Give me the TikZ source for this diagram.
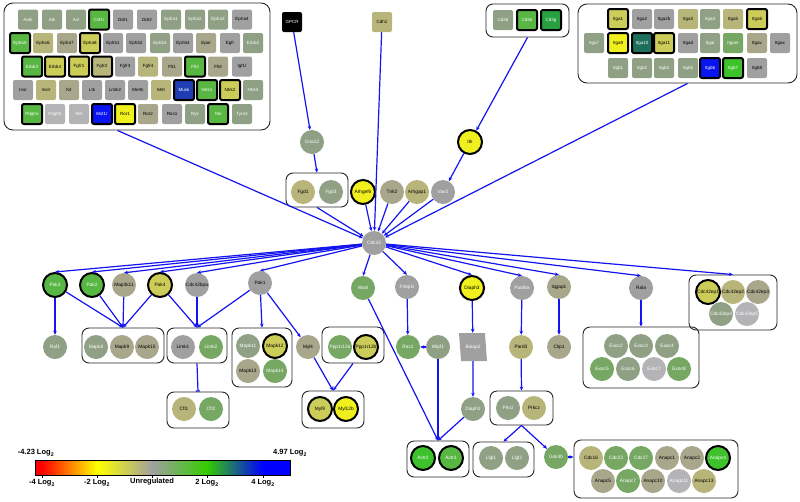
\documentclass[tikz,border=0pt]{standalone}
\usepackage{fontspec}
\setmainfont{Liberation Sans}
\usetikzlibrary{arrows.meta,shapes.geometric}

\definecolor{edgeblue}{RGB}{20,20,240}
\definecolor{cgray}{RGB}{160,160,160}
\definecolor{cltgray}{RGB}{180,180,182}
\definecolor{cgg}{RGB}{143,160,133}
\definecolor{cmg}{RGB}{118,168,100}
\definecolor{cgreen}{RGB}{88,182,66}
\definecolor{cbright}{RGB}{62,194,44}
\definecolor{cdgreen}{RGB}{40,160,64}
\definecolor{ckg}{RGB}{168,167,140}
\definecolor{ckhaki}{RGB}{184,181,122}
\definecolor{cyk}{RGB}{204,204,88}
\definecolor{cyellow}{RGB}{240,240,30}
\definecolor{cblue}{RGB}{10,20,240}
\definecolor{cdblue}{RGB}{32,62,180}
\definecolor{cteal}{RGB}{30,110,92}
\definecolor{legyellow}{RGB}{255,255,0}
\definecolor{leggreen}{RGB}{51,204,0}

\newcommand\genefont{\fontsize{4.8}{5}\selectfont}
\newcommand\rtkfont{\fontsize{4.5}{5}\selectfont}
\newcommand\legfont{\fontsize{7.5}{9}\selectfont\bfseries}

\tikzset{
  gene/.style={circle,minimum size=24pt,inner sep=0pt,font=\genefont},
  rtk/.style={rectangle,rounded corners=2pt,minimum size=20pt,inner sep=0pt,font=\rtkfont},
  hit/.style={draw=black,line width=2pt},
  grp/.style={draw=black!85,line width=0.9pt,rounded corners=7pt,inner sep=0pt},
  link/.style={draw=edgeblue,line width=1.2pt,-{Stealth[length=4pt,width=3.5pt]}},
  stop/.style={draw=edgeblue,line width=1.2pt,-{Bar[width=4pt]}},
  legtext/.style={font=\legfont,inner sep=0pt},
  fgray/.style={fill=cgray,text=black},
  fgrayw/.style={fill=cgray,text=white},
  flt/.style={fill=cltgray,text=white},
  fgg/.style={fill=cgg,text=white},
  fmg/.style={fill=cmg,text=white},
  fgreen/.style={fill=cgreen,text=white},
  fbright/.style={fill=cbright,text=white},
  fdgreen/.style={fill=cdgreen,text=white},
  fkg/.style={fill=ckg,text=black},
  fkhaki/.style={fill=ckhaki,text=black},
  fyk/.style={fill=cyk,text=black},
  fyellow/.style={fill=cyellow,text=black},
  fblue/.style={fill=cblue,text=white},
  fdblue/.style={fill=cdblue,text=white},
  fteal/.style={fill=cteal,text=white},
}

\begin{document}
\begin{tikzpicture}[x=1pt,y=-1pt]
\useasboundingbox[fill=white] (0,0) rectangle (800,501);

% group boxes
\node[grp,rounded corners=9pt,minimum width=266pt,minimum height=127pt] (rtkbox) at (137,66.5) {};
\node[grp,rounded corners=9pt,minimum width=219pt,minimum height=79pt] (itgbox) at (687.5,43.5) {};
\node[grp,minimum width=83pt,minimum height=33pt] (cd3box) at (527.5,20.5) {};
\node[grp,minimum width=62pt,minimum height=34pt] (fgdbox) at (317,190) {};
\node[grp,minimum width=82pt,minimum height=35pt] (mapkbox) at (123,345.5) {};
\node[grp,minimum width=60pt,minimum height=35pt] (limkbox) at (197,345.5) {};
\node[grp,minimum width=60pt,minimum height=59pt] (mapk11box) at (262,357.5) {};
\node[grp,minimum width=62pt,minimum height=36pt] (ppp1rbox) at (353,345) {};
\node[grp,minimum width=62pt,minimum height=37pt] (mylbox) at (333,409.5) {};
\node[grp,minimum width=88pt,minimum height=55pt] (epbox) at (733,302.5) {};
\node[grp,minimum width=116pt,minimum height=61pt] (exocbox) at (641,357.5) {};
\node[grp,minimum width=62pt,minimum height=36pt] (cflbox) at (198,410) {};
\node[grp,minimum width=63pt,minimum height=34pt] (prkcbox) at (521.5,408) {};
\node[grp,minimum width=62pt,minimum height=36pt] (actinbox) at (438,459) {};
\node[grp,minimum width=61pt,minimum height=35pt] (llglbox) at (503.5,459.5) {};
\node[grp,minimum width=164pt,minimum height=58pt] (anapcbox) at (656,469) {};

% receptor tyrosine kinases
\node[rtk,fgg] (aatk) at (28,19.5) {Aatk};
\node[rtk,fgg] (alk) at (52,19.5) {Alk};
\node[rtk,fgg] (axl) at (76,19.5) {Axl};
\node[rtk,fgreen,hit] (csf1r) at (99,19.5) {Csf1r};
\node[rtk,fgray] (ddr1) at (123,19.5) {Ddr1};
\node[rtk,fgray] (ddr2) at (147,19.5) {Ddr2};
\node[rtk,fgg] (epha1) at (171,19.5) {Epha1};
\node[rtk,fgg] (epha2) at (195,19.5) {Epha2};
\node[rtk,fgg] (epha3) at (218,19.5) {Epha3};
\node[rtk,fgray] (epha4) at (242,19.5) {Epha4};

\node[rtk,fgreen,hit] (epha5) at (20,43) {Epha5};
\node[rtk,fkhaki] (epha6) at (43,43) {Epha6};
\node[rtk,fkg] (epha7) at (67,43) {Epha7};
\node[rtk,fyk,hit] (epha8) at (90,43) {Epha8};
\node[rtk,fgray] (ephb1) at (113,43) {Ephb1};
\node[rtk,fgray] (ephb2) at (136,43) {Ephb2};
\node[rtk,fgg] (ephb3) at (160,43) {Ephb3};
\node[rtk,fgray] (ephb4) at (183,43) {Ephb4};
\node[rtk,fkg] (epor) at (206,43) {Epor};
\node[rtk,fgray] (egfr) at (230,43) {Egfr};
\node[rtk,fgg] (erbb2) at (253,43) {Erbb2};

\node[rtk,fgreen,hit] (erbb3) at (32,66.5) {Erbb3};
\node[rtk,fyk,hit] (erbb4) at (55,66.5) {Erbb4};
\node[rtk,fyk,hit] (fgfr1) at (79,66.5) {Fgfr1};
\node[rtk,fkhaki,hit] (fgfr2) at (102,66.5) {Fgfr2};
\node[rtk,fgray] (fgfr3) at (125,66.5) {Fgfr3};
\node[rtk,fkhaki] (fgfr4) at (148,66.5) {Fgfr4};
\node[rtk,fkg] (flt1) at (172,66.5) {Flt1};
\node[rtk,fgreen,hit] (flt3) at (195,66.5) {Flt3};
\node[rtk,fkg] (flt4) at (218,66.5) {Flt4};
\node[rtk,fgray] (igf1r) at (242,66.5) {Igf1r};

\node[rtk,fgray] (insr) at (23,90) {Insr};
\node[rtk,fkhaki] (insrr) at (46,90) {Insrr};
\node[rtk,fkg] (kit) at (69,90) {Kit};
\node[rtk,fgray] (ltk) at (92,90) {Ltk};
\node[rtk,fgray] (lmtk2) at (115,90) {Lmtk2};
\node[rtk,fgray] (mertk) at (138,90) {Mertk};
\node[rtk,fkhaki] (met) at (161,90) {Met};
\node[rtk,fdblue,hit] (musk) at (184,90) {Musk};
\node[rtk,fgreen,hit] (ntrk1) at (207,90) {Ntrk1};
\node[rtk,fyk,hit] (ntrk2) at (230,90) {Ntrk2};
\node[rtk,fgg] (ntrk3) at (253,90) {Ntrk3};

\node[rtk,fgreen,hit] (pdgfra) at (32,114) {Pdgfra};
\node[rtk,flt] (pdgfrb) at (55,114) {Pdgfrb};
\node[rtk,flt] (ret) at (79,114) {Ret};
\node[rtk,fblue,hit] (mst1r) at (102,114) {Mst1r};
\node[rtk,fyellow,hit] (ror1) at (125,114) {Ror1};
\node[rtk,fkg] (ror2) at (148,114) {Ror2};
\node[rtk,fgray] (ros1) at (172,114) {Ros1};
\node[rtk,fgg] (ryk) at (195,114) {Ryk};
\node[rtk,fgreen,hit] (tek) at (218,114) {Tek};
\node[rtk,fgg] (tyro3) at (242,114) {Tyro3};

% integrins
\node[rtk,fyk,hit] (itga1) at (618,19) {Itga1};
\node[rtk,fgray] (itga2) at (642,19) {Itga2};
\node[rtk,fgray] (itga2b) at (664,19) {Itga2b};
\node[rtk,fkhaki] (itga3) at (688,19) {Itga3};
\node[rtk,fgg] (itga4) at (710,19) {Itga4};
\node[rtk,fkhaki] (itga5) at (733,19) {Itga5};
\node[rtk,fyk,hit] (itga6) at (757,19) {Itga6};

\node[rtk,fgg] (itga7) at (594,43) {Itga7};
\node[rtk,fyellow,hit] (itga9) at (618,43) {Itga9};
\node[rtk,fteal,hit] (itga10) at (642,43) {Itga10};
\node[rtk,fyk,hit] (itga11) at (664,43) {Itga11};
\node[rtk,fgray] (itgad) at (688,43) {Itgad};
\node[rtk,fgg] (itgal) at (710,43) {Itgal};
\node[rtk,fmg] (itgam) at (733,43) {Itgam};
\node[rtk,fkg] (itgav) at (757,43) {Itgav};
\node[rtk,fgray] (itgax) at (780,43) {Itgax};

\node[rtk,fgg] (itgb1) at (618,68) {Itgb1};
\node[rtk,fgg] (itgb2) at (642,68) {Itgb2};
\node[rtk,fgg] (itgb4) at (664,68) {Itgb4};
\node[rtk,fgg] (itgb5) at (688,68) {Itgb5};
\node[rtk,fblue,hit] (itgb6) at (710,68) {Itgb6};
\node[rtk,fbright,hit] (itgb7) at (733,68) {Itgb7};
\node[rtk,fgray] (itgb8) at (757,68) {Itgb8};

% cd3 complex and other inputs
\node[rtk,fgg] (cd3d) at (503,20) {Cd3d};
\node[rtk,fgreen,hit] (cd3e) at (527,20) {Cd3e};
\node[rtk,fdgreen,hit] (cd3g) at (551,20) {Cd3g};
\node[rtk,fill=black,text=white] (gpcr) at (292,22) {GPCR};
\node[rtk,fkhaki] (cdh1) at (382,22) {Cdh1};

\node[gene,fgg] (gna12) at (312,142) {Gna12};
\node[gene,fyellow,hit] (itk) at (470,142) {Itk};
\node[gene,fkhaki] (fgd1) at (303,192) {Fgd1};
\node[gene,fgg] (fgd3) at (331,192) {Fgd3};
\node[gene,fyellow,hit] (arhgef6) at (363,192) {Arhgef6};
\node[gene,fkg] (tnk2) at (392,192) {Tnk2};
\node[gene,fkhaki] (arhgap1) at (417,192) {Arhgap1};
\node[gene,fgrayw] (vav2) at (443,192) {Vav2};

\node[gene,fgrayw] (cdc42) at (374,243) {Cdc42};

% effectors
\node[gene,fgreen,hit] (pak3) at (55,285) {Pak3};
\node[gene,fgreen,hit] (pak2) at (92,285) {Pak2};
\node[gene,fkg] (map3k11) at (124,285) {Map3k11};
\node[gene,fyk,hit] (pak4) at (160,285) {Pak4};
\node[gene,fgray] (cdc42bpa) at (197,285) {Cdc42bpa};
\node[gene,fgray] (pak1) at (260,283) {Pak1};
\node[gene,fmg] (wasl) at (363,288) {Wasl};
\node[gene,fgrayw] (fnbp1l) at (407,287) {Fnbp1l};
\node[gene,fyellow,hit] (diaph3) at (472,288) {Diaph3};
\node[gene,fgrayw] (pard6a) at (522,288) {Pard6a};
\node[gene,fkg] (iqgap1) at (559,287) {Iqgap1};
\node[gene,fgray] (rala) at (641,288) {Rala};

\node[gene,fyk,hit] (cdc42ep1) at (708,292) {Cdc42ep1};
\node[gene,fkhaki] (cdc42ep2) at (733,292) {Cdc42ep2};
\node[gene,fkg] (cdc42ep3) at (758,292) {Cdc42ep3};
\node[gene,fgg] (cdc42ep4) at (721,314) {Cdc42ep4};
\node[gene,flt] (cdc42ep5) at (747,314) {Cdc42ep5};

% downstream
\node[gene,fgg] (raf1) at (55,347) {Raf1};
\node[gene,fgg] (mapk8) at (96,347) {Mapk8};
\node[gene,fkg] (mapk9) at (122,347) {Mapk9};
\node[gene,fkg] (mapk10) at (147,347) {Mapk10};
\node[gene,fgray] (limk1) at (183,347) {Limk1};
\node[gene,fmg] (limk2) at (211,347) {Limk2};
\node[gene,fgg] (mapk11) at (248,346) {Mapk11};
\node[gene,fyk,hit] (mapk12) at (275,346) {Mapk12};
\node[gene,fkg] (mapk13) at (248,371) {Mapk13};
\node[gene,fmg] (mapk14) at (275,371) {Mapk14};
\node[gene,fkg] (mylk) at (308,347) {Mylk};
\node[gene,fmg] (ppp1r12a) at (340,347) {Ppp1r12a};
\node[gene,fyk,hit] (ppp1r12b) at (366,347) {Ppp1r12b};
\node[gene,fyk,hit] (myl9) at (320,409) {Myl9};
\node[gene,fyellow,hit] (myl12b) at (346,409) {Myl12b};

\node[gene,fmg] (rac1) at (408,347) {Rac1};
\node[gene,fgg] (wipf1) at (438,347) {Wipf1};
\node[trapezium,trapezium left angle=106,trapezium right angle=74,trapezium stretches=true,
  minimum width=28pt,minimum height=28pt,inner sep=0pt,font=\genefont,fgrayw] (baiap2) at (473,347) {Baiap2};
\node[gene,fkhaki] (pard3) at (521,347) {Pard3};
\node[gene,fkg] (clip1) at (559,347) {Clip1};

\node[gene,fgg] (exoc2) at (616,346) {Exoc2};
\node[gene,fgg] (exoc3) at (641,346) {Exoc3};
\node[gene,fgg] (exoc4) at (667,346) {Exoc4};
\node[gene,fmg] (exoc5) at (602,369) {Exoc5};
\node[gene,fgg] (exoc6) at (628,369) {Exoc6};
\node[gene,flt] (exoc7) at (654,369) {Exoc7};
\node[gene,fmg] (exoc8) at (679,369) {Exoc8};

\node[gene,fkhaki] (cfl1) at (184,409) {Cfl1};
\node[gene,fmg] (cfl2) at (211,409) {Cfl2};
\node[gene,fgg] (diaph1) at (473,409) {Diaph1};
\node[gene,fgg] (prkci) at (508,408) {Prkci};
\node[gene,fkhaki] (prkcz) at (534,408) {Prkcz};
\node[gene,fbright,hit] (actr2) at (423,458) {Actr2};
\node[gene,fgreen,hit] (actr3) at (451,458) {Actr3};
\node[gene,fgg] (llgl1) at (491,458) {Llgl1};
\node[gene,fgg] (llgl2) at (517,458) {Llgl2};
\node[gene,fmg] (gsk3b) at (556,457) {Gsk3b};

\node[gene,fkhaki] (cdc16) at (591,458) {Cdc16};
\node[gene,fmg] (cdc23) at (616,458) {Cdc23};
\node[gene,fmg] (cdc27) at (641,458) {Cdc27};
\node[gene,fkg] (anapc1) at (667,458) {Anapc1};
\node[gene,fkg] (anapc2) at (692,458) {Anapc2};
\node[gene,fbright,hit] (anapc4) at (718,458) {Anapc4};
\node[gene,fkg] (anapc5) at (603,481) {Anapc5};
\node[gene,fmg] (anapc7) at (628,481) {Anapc7};
\node[gene,fkg] (anapc10) at (653,481) {Anapc10};
\node[gene,flt] (anapc11) at (679,481) {Anapc11};
\node[gene,fkhaki] (anapc13) at (704,481) {Anapc13};

% upstream links
\draw[link] (gpcr) -- (gna12);
\draw[link] (gna12) -- (fgdbox.north);
\draw[link] (cdh1) -- (cdc42);
\draw[link] (cd3box.south) -- (itk);
\draw[link] (itk) -- (vav2);
\draw[link] (rtkbox.-107) -- (cdc42);
\draw[link] (itgbox.south) -- (cdc42);
\draw[link] (fgdbox.south) -- (cdc42);
\draw[link] (arhgef6) -- (cdc42);
\draw[link] (tnk2) -- (cdc42);
\draw[link] (arhgap1) -- (cdc42);
\draw[link] (vav2) -- (cdc42);

% cdc42 to effectors
\draw[link] (cdc42) -- (pak3.north);
\draw[link] (cdc42) -- (pak2.north);
\draw[link] (cdc42) -- (map3k11.north);
\draw[link] (cdc42) -- (pak4.north);
\draw[link] (cdc42) -- (cdc42bpa.north);
\draw[link] (cdc42) -- (pak1.north);
\draw[link] (cdc42) -- (wasl.north);
\draw[link] (cdc42) -- (fnbp1l.north);
\draw[link] (cdc42) -- (diaph3.north);
\draw[link] (cdc42) -- (pard6a.north);
\draw[link] (cdc42) -- (iqgap1.north);
\draw[link] (cdc42) -- (rala.north);
\draw[link] (cdc42) -- (epbox.north);

% effectors downstream
\draw[link] (pak3) -- (raf1);
\draw[link] (pak3) -- (mapkbox.north);
\draw[link] (pak2) -- (mapkbox.north);
\draw[link] (map3k11) -- (mapkbox.north);
\draw[link] (pak4) -- (mapkbox.north);
\draw[link] (pak4) -- (limkbox.north);
\draw[link] (cdc42bpa) -- (limkbox.north);
\draw[link] (pak1) -- (limkbox.north);
\draw[link] (pak1) -- (mapk11box.north);
\draw[link] (pak1) -- (mylk);
\draw[link] (mylk) -- (mylbox.north);
\draw[link] (ppp1rbox.south) -- (mylbox.north);
\draw[stop] (limkbox.south) -- (cflbox.north);
\draw[link] (wasl) -- (actinbox.north);
\draw[link] (fnbp1l) -- (rac1);
\draw[link] (wipf1) -- (rac1);
\draw[link] (wipf1) -- (actinbox.north);
\draw[link] (diaph3) -- (baiap2);
\draw[link] (baiap2) -- (diaph1);
\draw[link] (diaph1) -- (actinbox.north);
\draw[link] (pard6a) -- (pard3);
\draw[link] (pard3) -- (prkcbox.north);
\draw[link] (iqgap1) -- (clip1);
\draw[link] (rala) -- (exocbox.north);
\draw[link] (prkcbox.south) -- (llglbox.north);
\draw[link] (prkcbox.south) -- (gsk3b);
\draw[link] (gsk3b) -- (gsk3b -| anapcbox.west);

% legend
\fill[red] (35,460) rectangle (42,475);
\shade[left color=red,right color=legyellow] (42,460) rectangle (97,475);
\shade[left color=legyellow,right color=cgray] (97,460) rectangle (152,475);
\shade[left color=cgray,right color=leggreen] (152,460) rectangle (207,475);
\shade[left color=leggreen,right color=blue] (207,460) rectangle (263,475);
\fill[blue] (263,460) rectangle (290,475);
\draw[line width=0.6pt] (35,460) rectangle (290,475);
\draw[line width=0.6pt] (42,475) -- (42,478) (97,475) -- (97,478) (152,475) -- (152,478)
  (207,475) -- (207,478) (263,475) -- (263,478);
\node[legtext] (legmin) at (36,453) {-4.23 Log\textsubscript{2}};
\node[legtext] (legmax) at (290,453) {4.97 Log\textsubscript{2}};
\node[legtext] (legm4) at (42,483) {-4 Log\textsubscript{2}};
\node[legtext] (legm2) at (97,483) {-2 Log\textsubscript{2}};
\node[legtext] (legzero) at (152,482) {Unregulated};
\node[legtext] (legp2) at (207,483) {2 Log\textsubscript{2}};
\node[legtext] (legp4) at (263,483) {4 Log\textsubscript{2}};
\end{tikzpicture}
\end{document}
